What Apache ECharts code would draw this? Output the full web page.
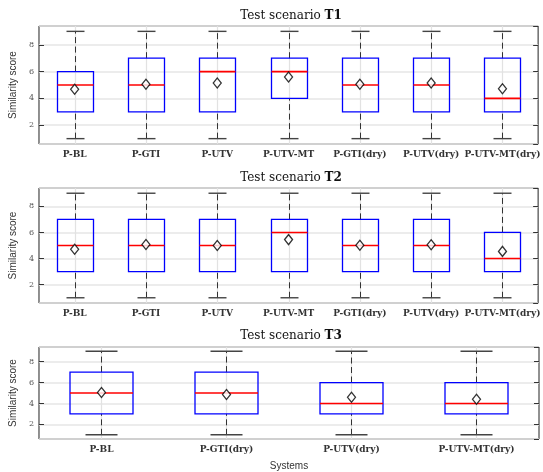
<!DOCTYPE html>
<html>
<head>
<meta charset="utf-8">
<script src="https://cdn.jsdelivr.net/npm/echarts@6/dist/echarts.min.js"></script>
<style>
  html, body { margin: 0; padding: 0; background: #fff; }
  #main { width: 543px; height: 472px; }
</style>
</head>
<body>
<div id="main"></div>
<script>
// scenario T1
var t1Cats = ['P-BL', 'P-GTI', 'P-UTV', 'P-UTV-MT', 'P-GTI(dry)', 'P-UTV(dry)', 'P-UTV-MT(dry)'];
var t1Low = [1, 1, 1, 1, 1, 1, 1];
var t1Q1 = [3, 3, 3, 4, 3, 3, 3];
var t1Median = [5, 5, 6, 6, 5, 5, 4];
var t1Q3 = [6, 7, 7, 7, 7, 7, 7];
var t1High = [9, 9, 9, 9, 9, 9, 9];
var t1Mean = [4.68, 5.05, 5.15, 5.6, 5.05, 5.15, 4.72];

// scenario T2
var t2Cats = ['P-BL', 'P-GTI', 'P-UTV', 'P-UTV-MT', 'P-GTI(dry)', 'P-UTV(dry)', 'P-UTV-MT(dry)'];
var t2Low = [1, 1, 1, 1, 1, 1, 1];
var t2Q1 = [3, 3, 3, 3, 3, 3, 3];
var t2Median = [5, 5, 5, 6, 5, 5, 4];
var t2Q3 = [7, 7, 7, 7, 7, 7, 6];
var t2High = [9, 9, 9, 9, 9, 9, 9];
var t2Mean = [4.72, 5.08, 5.0, 5.45, 5.02, 5.05, 4.55];

// scenario T3
var t3Cats = ['P-BL', 'P-GTI(dry)', 'P-UTV(dry)', 'P-UTV-MT(dry)'];
var t3Low = [1, 1, 1, 1];
var t3Q1 = [3, 3, 3, 3];
var t3Median = [5, 5, 4, 4];
var t3Q3 = [7, 7, 6, 6];
var t3High = [9, 9, 9, 9];
var t3Mean = [5.05, 4.85, 4.6, 4.4];

var yMin = 0.6, yMax = 9.4;

var serif = '"DejaVu Serif", "Liberation Serif", serif';
var sans = '"Liberation Sans", "DejaVu Sans", sans-serif';

/**
 * 箱线图自绘
 */
function renderBox(params, api) {
    var cat = api.value(0);
    var lo = api.coord([cat, api.value(1)]);
    var q1 = api.coord([cat, api.value(2)]);
    var md = api.coord([cat, api.value(3)]);
    var q3 = api.coord([cat, api.value(4)]);
    var hi = api.coord([cat, api.value(5)]);
    var bw = Math.round(api.size([1, 0])[0] * 0.5);
    var cw = Math.round(bw * 0.5);
    var cs = params.coordSys;
    var x = Math.round(lo[0]) + 0.5;
    var left = x - bw / 2, right = x + bw / 2;
    return {
        type: 'group',
        children: [
            { type: 'line', shape: { x1: x, y1: cs.y, x2: x, y2: cs.y + cs.height }, style: { stroke: '#e2e2e2', lineWidth: 1.2 } },
            { type: 'line', shape: { x1: x, y1: lo[1], x2: x, y2: q1[1] }, style: { stroke: '#333', lineWidth: 1, lineDash: [6, 3.5] } },
            { type: 'line', shape: { x1: x, y1: q3[1], x2: x, y2: hi[1] }, style: { stroke: '#333', lineWidth: 1, lineDash: [6, 3.5] } },
            { type: 'line', shape: { x1: x - cw / 2, y1: lo[1], x2: x + cw / 2, y2: lo[1] }, style: { stroke: '#444', lineWidth: 1.4 } },
            { type: 'line', shape: { x1: x - cw / 2, y1: hi[1], x2: x + cw / 2, y2: hi[1] }, style: { stroke: '#444', lineWidth: 1.4 } },
            { type: 'rect', shape: { x: left, y: q3[1], width: bw, height: q1[1] - q3[1] }, style: { fill: null, stroke: '#0000ff', lineWidth: 1.3 } },
            { type: 'line', shape: { x1: left, y1: md[1], x2: right, y2: md[1] }, style: { stroke: '#ff0000', lineWidth: 1.6 } }
        ]
    };
}

function boxData(low, q1, med, q3, high) {
    return low.map(function (v, i) {
        return [i, v, q1[i], med[i], q3[i], high[i]];
    });
}

function meanData(mean) {
    return mean.map(function (v, i) { return [i, v]; });
}

var panels = [
    { name: 'T1', top: 26, height: 118, cats: t1Cats, box: boxData(t1Low, t1Q1, t1Median, t1Q3, t1High), mean: meanData(t1Mean), titleTop: 5 },
    { name: 'T2', top: 188, height: 115, cats: t2Cats, box: boxData(t2Low, t2Q1, t2Median, t2Q3, t2High), mean: meanData(t2Mean), titleTop: 167 },
    { name: 'T3', top: 347, height: 100, cats: t3Cats, box: boxData(t3Low, t3Q1, t3Median, t3Q3, t3High), mean: meanData(t3Mean), titleTop: 325 }
];

var option = {
    animation: false,
    backgroundColor: '#fff',
    title: [],
    grid: [],
    xAxis: [],
    yAxis: [],
    series: []
};

panels.forEach(function (p, k) {
    option.title.push({
        text: '{n|Test scenario }{b|' + p.name + '}',
        left: 286,
        textAlign: 'center',
        top: p.titleTop,
        textStyle: {
            fontWeight: 'normal',
            rich: {
                n: { fontFamily: serif, fontSize: 12, fontWeight: 'normal', color: '#111' },
                b: { fontFamily: serif, fontSize: 12, fontWeight: 'bold', color: '#111' }
            }
        }
    });
    option.grid.push({
        left: 33,
        top: p.top,
        width: 506,
        height: p.height,
        show: true,
        borderColor: '#222',
        borderWidth: 1,
        backgroundColor: 'transparent'
    });
    option.xAxis.push({
        type: 'category',
        gridIndex: k,
        data: p.cats,
        boundaryGap: true,
        axisLine: { show: false },
        axisTick: { show: false },
        splitLine: { show: false },
        axisLabel: {
            margin: 6,
            interval: 0,
            fontFamily: serif,
            fontWeight: 'bold',
            fontSize: 9,
            color: '#333'
        },
        name: k === 2 ? 'Systems' : '',
        nameLocation: 'middle',
        nameGap: 22,
        nameTextStyle: { fontFamily: sans, fontSize: 10, color: '#333' }
    });
    option.yAxis.push({
        type: 'value',
        gridIndex: k,
        min: yMin,
        max: yMax,
        splitNumber: 4,
        axisLine: { show: false },
        axisTick: { show: true, inside: true, length: 5, lineStyle: { color: '#333' } },
        splitLine: { show: true, lineStyle: { color: '#e6e6e6', width: 1.5 } },
        axisLabel: {
            showMinLabel: false,
            showMaxLabel: false,
            margin: 5,
            fontFamily: serif,
            fontSize: 8,
            color: '#555'
        },
        name: 'Similarity score',
        nameLocation: 'middle',
        nameGap: 16,
        nameTextStyle: { fontFamily: sans, fontSize: 10, color: '#333' }
    });
    option.yAxis.push({
        type: 'value',
        gridIndex: k,
        position: 'right',
        min: yMin,
        max: yMax,
        splitNumber: 4,
        axisLine: { show: false },
        axisTick: { show: true, inside: true, length: 5, lineStyle: { color: '#333' } },
        splitLine: { show: false },
        axisLabel: { show: false }
    });
    option.series.push({
        type: 'custom',
        xAxisIndex: k,
        yAxisIndex: k * 2,
        renderItem: renderBox,
        data: p.box,
        z: 2
    });
    option.series.push({
        type: 'scatter',
        xAxisIndex: k,
        yAxisIndex: k * 2,
        symbol: 'diamond',
        symbolSize: [8, 10],
        itemStyle: { color: '#fff', borderColor: '#000', borderWidth: 1.3 },
        data: p.mean,
        z: 5
    });
});

var myChart = echarts.init(document.getElementById('main'));
myChart.setOption(option);
</script>
</body>
</html>
